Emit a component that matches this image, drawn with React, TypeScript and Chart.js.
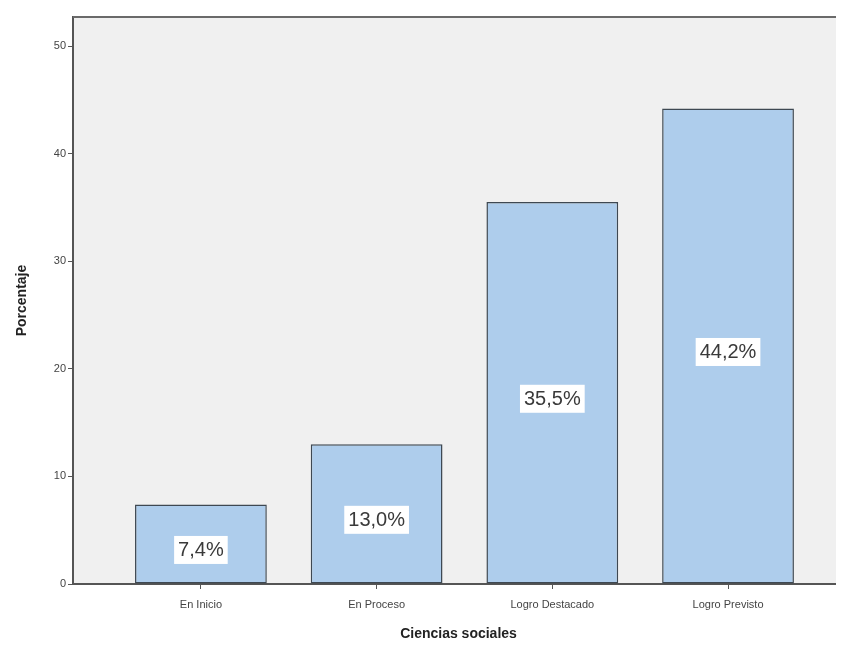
import React, { useEffect, useRef } from "react";
import { Chart, registerables } from "chart.js";

Chart.register(...registerables);

const categories = ["En Inicio", "En Proceso", "Logro Destacado", "Logro Previsto"];
const percentages = [7.4, 13.0, 35.5, 44.2];
const percentLabels = ["7,4%", "13,0%", "35,5%", "44,2%"];
const yTicks = [0, 10, 20, 30, 40, 50];
const xTitle = "Ciencias sociales";
const yTitle = "Porcentaje";

const FONT = "'Liberation Sans', Arial, sans-serif";

const framePlugin = {
  id: "frame",
  beforeDraw(chart: any) {
    const { ctx, chartArea } = chart;
    ctx.save();
    ctx.fillStyle = "#f0f0f0";
    ctx.fillRect(chartArea.left, chartArea.top, chartArea.right - chartArea.left, chartArea.bottom - chartArea.top);
    ctx.restore();
  },
  afterDraw(chart: any) {
    const { ctx, chartArea } = chart;
    ctx.save();
    ctx.strokeStyle = "#6a6a6a";
    ctx.lineWidth = 2;
    ctx.beginPath();
    ctx.moveTo(chartArea.left, chartArea.top);
    ctx.lineTo(chartArea.right, chartArea.top);
    ctx.stroke();
    ctx.restore();
  },
};

const labelPlugin = {
  id: "barLabels",
  afterDatasetsDraw(chart: any) {
    const { ctx } = chart;
    const meta = chart.getDatasetMeta(0);
    ctx.save();
    ctx.font = `20px ${FONT}`;
    ctx.textAlign = "center";
    ctx.textBaseline = "middle";
    meta.data.forEach((bar: any, i: number) => {
      const text = percentLabels[i];
      const cx = bar.x;
      const cy = (bar.y + bar.base) / 2 + 6;
      const w = ctx.measureText(text).width + 8;
      const h = 28;
      ctx.fillStyle = "#ffffff";
      ctx.fillRect(cx - w / 2, cy - h / 2, w, h);
      ctx.fillStyle = "#3a3a3a";
      ctx.fillText(text, cx, cy + 1);
    });
    ctx.restore();
  },
};

export default function App() {
  const ref = useRef<HTMLCanvasElement | null>(null);
  useEffect(() => {
    if (!ref.current) return;
    const chart = new Chart(ref.current, {
      type: "bar",
      data: {
        datasets: [
          {
            data: percentages.map((v, i) => ({ x: i, y: v })),
            backgroundColor: "#aecdec",
            borderColor: "#3e4852",
            borderWidth: 1.5,
            borderSkipped: false,
            barPercentage: 0.75,
            categoryPercentage: 1,
          },
        ],
      },
      options: {
        animation: false,
        responsive: true,
        maintainAspectRatio: false,
        layout: { padding: { top: 9, left: 0, right: 0, bottom: 0 } },
        plugins: { legend: { display: false }, tooltip: { enabled: false } },
        scales: {
          x: {
            type: "linear",
            offset: false,
            min: -0.728,
            max: 3.66,
            afterBuildTicks: (scale: any) => {
              scale.ticks = categories.map((_, i) => ({ value: i }));
            },
            afterFit: (scale: any) => {
              scale.height = 61;
            },
            ticks: {
              includeBounds: false,
              autoSkip: false,
              maxRotation: 0,
              padding: 9,
              color: "#444",
              font: { family: FONT, size: 11 },
              callback: (v: any) => categories[v as number],
            },
            grid: { offset: false, drawOnChartArea: false, tickLength: 5, color: "#555", lineWidth: 1 },
            border: { color: "#555", width: 2 },
            title: {
              display: true,
              text: xTitle,
              color: "#222",
              font: { family: FONT, size: 14, weight: "bold" },
              padding: { top: 0, bottom: 2 },
            },
          },
          y: {
            min: 0,
            max: 52.7,
            afterBuildTicks: (scale: any) => {
              scale.ticks = yTicks.map((v) => ({ value: v }));
            },
            afterFit: (scale: any) => {
              scale.width = 65;
            },
            ticks: {
              padding: 2,
              color: "#444",
              font: { family: FONT, size: 11 },
            },
            grid: { drawOnChartArea: false, tickLength: 5, color: "#555", lineWidth: 1 },
            border: { color: "#555", width: 2 },
            title: {
              display: true,
              text: yTitle,
              color: "#222",
              font: { family: FONT, size: 14, weight: "bold" },
              padding: { top: 6, bottom: 0 },
            },
          },
        },
      },
      plugins: [framePlugin, labelPlugin],
    } as any);
    return () => chart.destroy();
  }, []);
  return (
    <div style={{ width: 836, height: 637, position: "relative" }}>
      <canvas ref={ref} />
    </div>
  );
}
